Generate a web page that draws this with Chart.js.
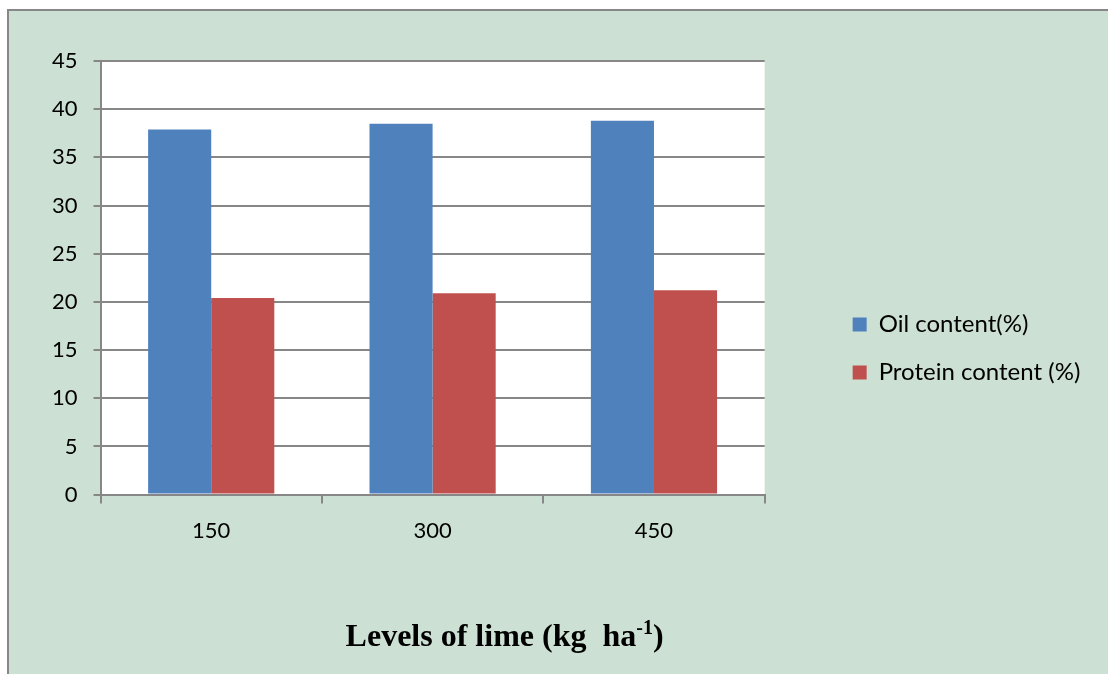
<!DOCTYPE html>
<html>
<head>
<meta charset="utf-8">
<script src="https://cdn.jsdelivr.net/npm/chart.js@4"></script>
<style>
    html, body { margin: 0; padding: 0; background: #fff; }
    #wrap { width: 1108px; height: 674px; position: relative; }
</style>
</head>
<body>
<div id="wrap"><canvas id="limeChart" width="1108" height="674"></canvas></div>
<script>
// Data
const categories = ['150', '300', '450'];
const oilContent = [37.9, 38.5, 38.8];
const proteinContent = [20.4, 20.9, 21.2];
const seriesNames = ['Oil content(%)', 'Protein content (%)'];
const axisTitle = 'Levels of lime (kg  ha';
const axisTitleSup = '-1';

const bgGreen = '#cde0d4';
const lineGray = '#878787';
const labelFont = { family: 'Lato', size: 22 };
const legendFont = { family: 'Lato', size: 24 };

// Frame + white plot area behind the bars
const backdrop = {
    id: 'backdrop',
    beforeDraw(chart) {
        const c = chart.ctx;
        const a = chart.chartArea;
        c.save();
        c.fillStyle = '#fff';
        c.fillRect(0, 0, chart.width, chart.height);
        c.fillStyle = bgGreen;
        c.fillRect(9, 11, chart.width - 9, chart.height - 11);
        c.strokeStyle = lineGray;
        c.lineWidth = 2;
        c.beginPath();
        c.moveTo(8, chart.height);
        c.lineTo(8, 10);
        c.lineTo(chart.width, 10);
        c.stroke();
        c.fillStyle = '#fff';
        c.fillRect(a.left, a.top, a.right - a.left, a.bottom - a.top);
        c.restore();
    }
};

// Legend sits a bit off the plot and lower than centred
const legendPlace = {
    id: 'legendPlace',
    afterLayout(chart) {
        const lg = chart.legend;
        const a = chart.chartArea;
        lg.left = a.right + 64;
        lg.right = chart.width - 1;
        lg.top += 39;
        lg.bottom += 39;
    }
};

// Bold serif axis title with superscript
const bottomTitle = {
    id: 'bottomTitle',
    afterDraw(chart) {
        const c = chart.ctx;
        const a = chart.chartArea;
        c.save();
        c.fillStyle = '#000';
        c.textBaseline = 'alphabetic';
        const mainFont = 'bold 32px "Liberation Serif", "Times New Roman", serif';
        const supFont = 'bold 20px "Liberation Serif", "Times New Roman", serif';
        c.font = mainFont;
        const w1 = c.measureText(axisTitle).width;
        const w3 = c.measureText(')').width;
        c.font = supFont;
        const w2 = c.measureText(axisTitleSup).width;
        const total = w1 + w2 + w3;
        let x = (a.left + a.right) / 2 + 72 - total / 2;
        const y = a.bottom + 151;
        c.font = mainFont;
        c.fillText(axisTitle, x, y);
        x += w1;
        c.font = supFont;
        c.fillText(axisTitleSup, x, y - 12);
        x += w2;
        c.font = mainFont;
        c.fillText(')', x, y);
        c.restore();
    }
};

function drawChart() {
    const ctx = document.getElementById('limeChart').getContext('2d');
    new Chart(ctx, {
        type: 'bar',
        data: {
            labels: categories,
            datasets: [
                {
                    label: seriesNames[0],
                    data: oilContent,
                    backgroundColor: '#4f81bd'
                },
                {
                    label: seriesNames[1],
                    data: proteinContent,
                    backgroundColor: '#c0504d'
                }
            ]
        },
        options: {
            responsive: false,
            animation: false,
            layout: {
                padding: { left: 36, top: 61, right: 14, bottom: 116 }
            },
            datasets: {
                bar: { categoryPercentage: 0.57, barPercentage: 1.0 }
            },
            plugins: {
                tooltip: { enabled: false },
                legend: {
                    position: 'right',
                    labels: {
                        boxWidth: 14,
                        boxHeight: 14,
                        padding: 24,
                        color: '#000',
                        font: legendFont
                    }
                }
            },
            scales: {
                x: {
                    grid: {
                        offset: true,
                        drawOnChartArea: false,
                        color: lineGray,
                        lineWidth: 2,
                        tickLength: 9
                    },
                    border: { color: lineGray, width: 2 },
                    ticks: { color: '#000', font: labelFont, padding: 14 }
                },
                y: {
                    min: 0,
                    max: 45,
                    ticks: { stepSize: 5, color: '#000', font: labelFont, padding: 16 },
                    grid: { color: lineGray, lineWidth: 2, tickLength: 7 },
                    border: { color: lineGray, width: 2 }
                },
                // empty right axis only to keep space between plot and legend
                pad: {
                    type: 'linear',
                    position: 'right',
                    ticks: { display: false },
                    grid: { display: false },
                    border: { display: false },
                    afterFit(scale) { scale.width = 153; }
                }
            }
        },
        plugins: [backdrop, legendPlace, bottomTitle]
    });
}

Promise.all([
    document.fonts.load('22px Lato'),
    document.fonts.load('24px Lato'),
    document.fonts.load('bold 32px "Liberation Serif"')
]).then(drawChart, drawChart);
</script>
</body>
</html>
